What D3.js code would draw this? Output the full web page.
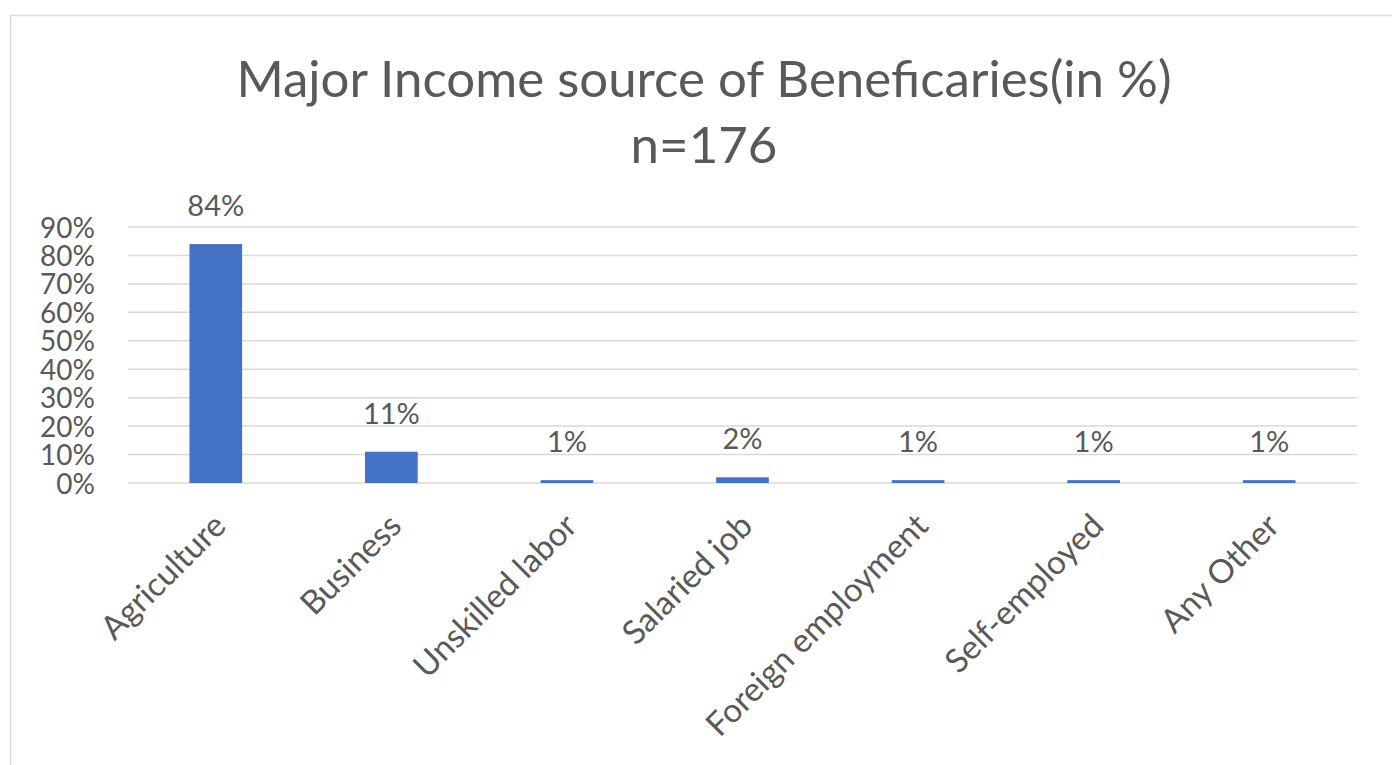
<!DOCTYPE html>
<html>
<head>
<meta charset="utf-8">
<script src="https://cdn.jsdelivr.net/npm/d3@7"></script>
<style>
  html, body { margin: 0; padding: 0; background: #fff; }
  svg { display: block; }
  text { font-family: Lato, "Open Sans", sans-serif; fill: #595959; }
</style>
</head>
<body>
<svg id="chart" width="1392" height="765"></svg>
<script>
// Income source categories and share of beneficiaries (%)
const categories = ["Agriculture", "Business", "Unskilled labor", "Salaried job",
                    "Foreign employment", "Self-employed", "Any Other"];
const values = [84, 11, 1, 2, 1, 1, 1];
const tickValues = [0, 10, 20, 30, 40, 50, 60, 70, 80, 90];
const titleLines = ["Major Income source of Beneficaries(in %)", "n=176"];

const svg = d3.select("#chart");
const W = 1392, H = 765;

// chart frame
svg.append("rect")
  .attr("x", 10.5).attr("y", 15.5)
  .attr("width", W + 20).attr("height", H + 20)
  .attr("fill", "#fff").attr("stroke", "#d9d9d9").attr("stroke-width", 1.5);

const plot = { left: 128, right: 1357, top: 227, bottom: 483 };

const x = d3.scaleBand()
  .domain(categories)
  .range([plot.left, plot.right])
  .paddingInner(0.7)
  .paddingOuter(0.35);

const y = d3.scaleLinear()
  .domain([0, 90])
  .range([plot.bottom, plot.top]);

// gridlines
svg.append("g")
  .selectAll("line")
  .data(tickValues)
  .join("line")
  .attr("x1", plot.left).attr("x2", plot.right)
  .attr("y1", d => y(d)).attr("y2", d => y(d))
  .attr("stroke", "#d9d9d9").attr("stroke-width", 1.5);

// y axis labels
const yAxis = d3.axisLeft(y)
  .tickValues(tickValues)
  .tickFormat(d => d + "%")
  .tickSize(0)
  .tickPadding(0);
const gy = svg.append("g")
  .attr("transform", `translate(95,0)`)
  .call(yAxis);
gy.select(".domain").remove();
gy.selectAll("text")
  .style("font-family", "Lato, 'Open Sans', sans-serif")
  .style("font-size", "28px")
  .attr("fill", "#595959")
  .attr("dy", "0.36em");

// bars
svg.append("g")
  .selectAll("rect")
  .data(values)
  .join("rect")
  .attr("x", (d, i) => x(categories[i]))
  .attr("width", x.bandwidth())
  .attr("y", d => y(d))
  .attr("height", d => y(0) - y(d))
  .attr("fill", "#4472C4");

// value labels
svg.append("g")
  .selectAll("text")
  .data(values)
  .join("text")
  .attr("x", (d, i) => x(categories[i]) + x.bandwidth() / 2)
  .attr("y", d => y(d) - 28)
  .attr("text-anchor", "middle")
  .style("font-size", "29px")
  .text(d => d + "%");

// category labels, rotated
const xAxis = d3.axisBottom(x).tickSize(0).tickPadding(0);
const gx = svg.append("g")
  .attr("transform", `translate(0,${plot.bottom})`)
  .call(xAxis);
gx.select(".domain").remove();
gx.selectAll("text")
  .style("font-family", "Lato, 'Open Sans', sans-serif")
  .style("font-size", "33px")
  .attr("fill", "#595959")
  .attr("text-anchor", "end")
  .attr("dy", null)
  .attr("y", 0)
  .attr("transform", "translate(12,45) rotate(-45)");

// title
svg.append("g")
  .selectAll("text")
  .data(titleLines)
  .join("text")
  .attr("x", 704)
  .attr("y", (d, i) => 97 + i * 66)
  .attr("text-anchor", "middle")
  .style("font-size", "51px")
  .text(d => d);
</script>
</body>
</html>
